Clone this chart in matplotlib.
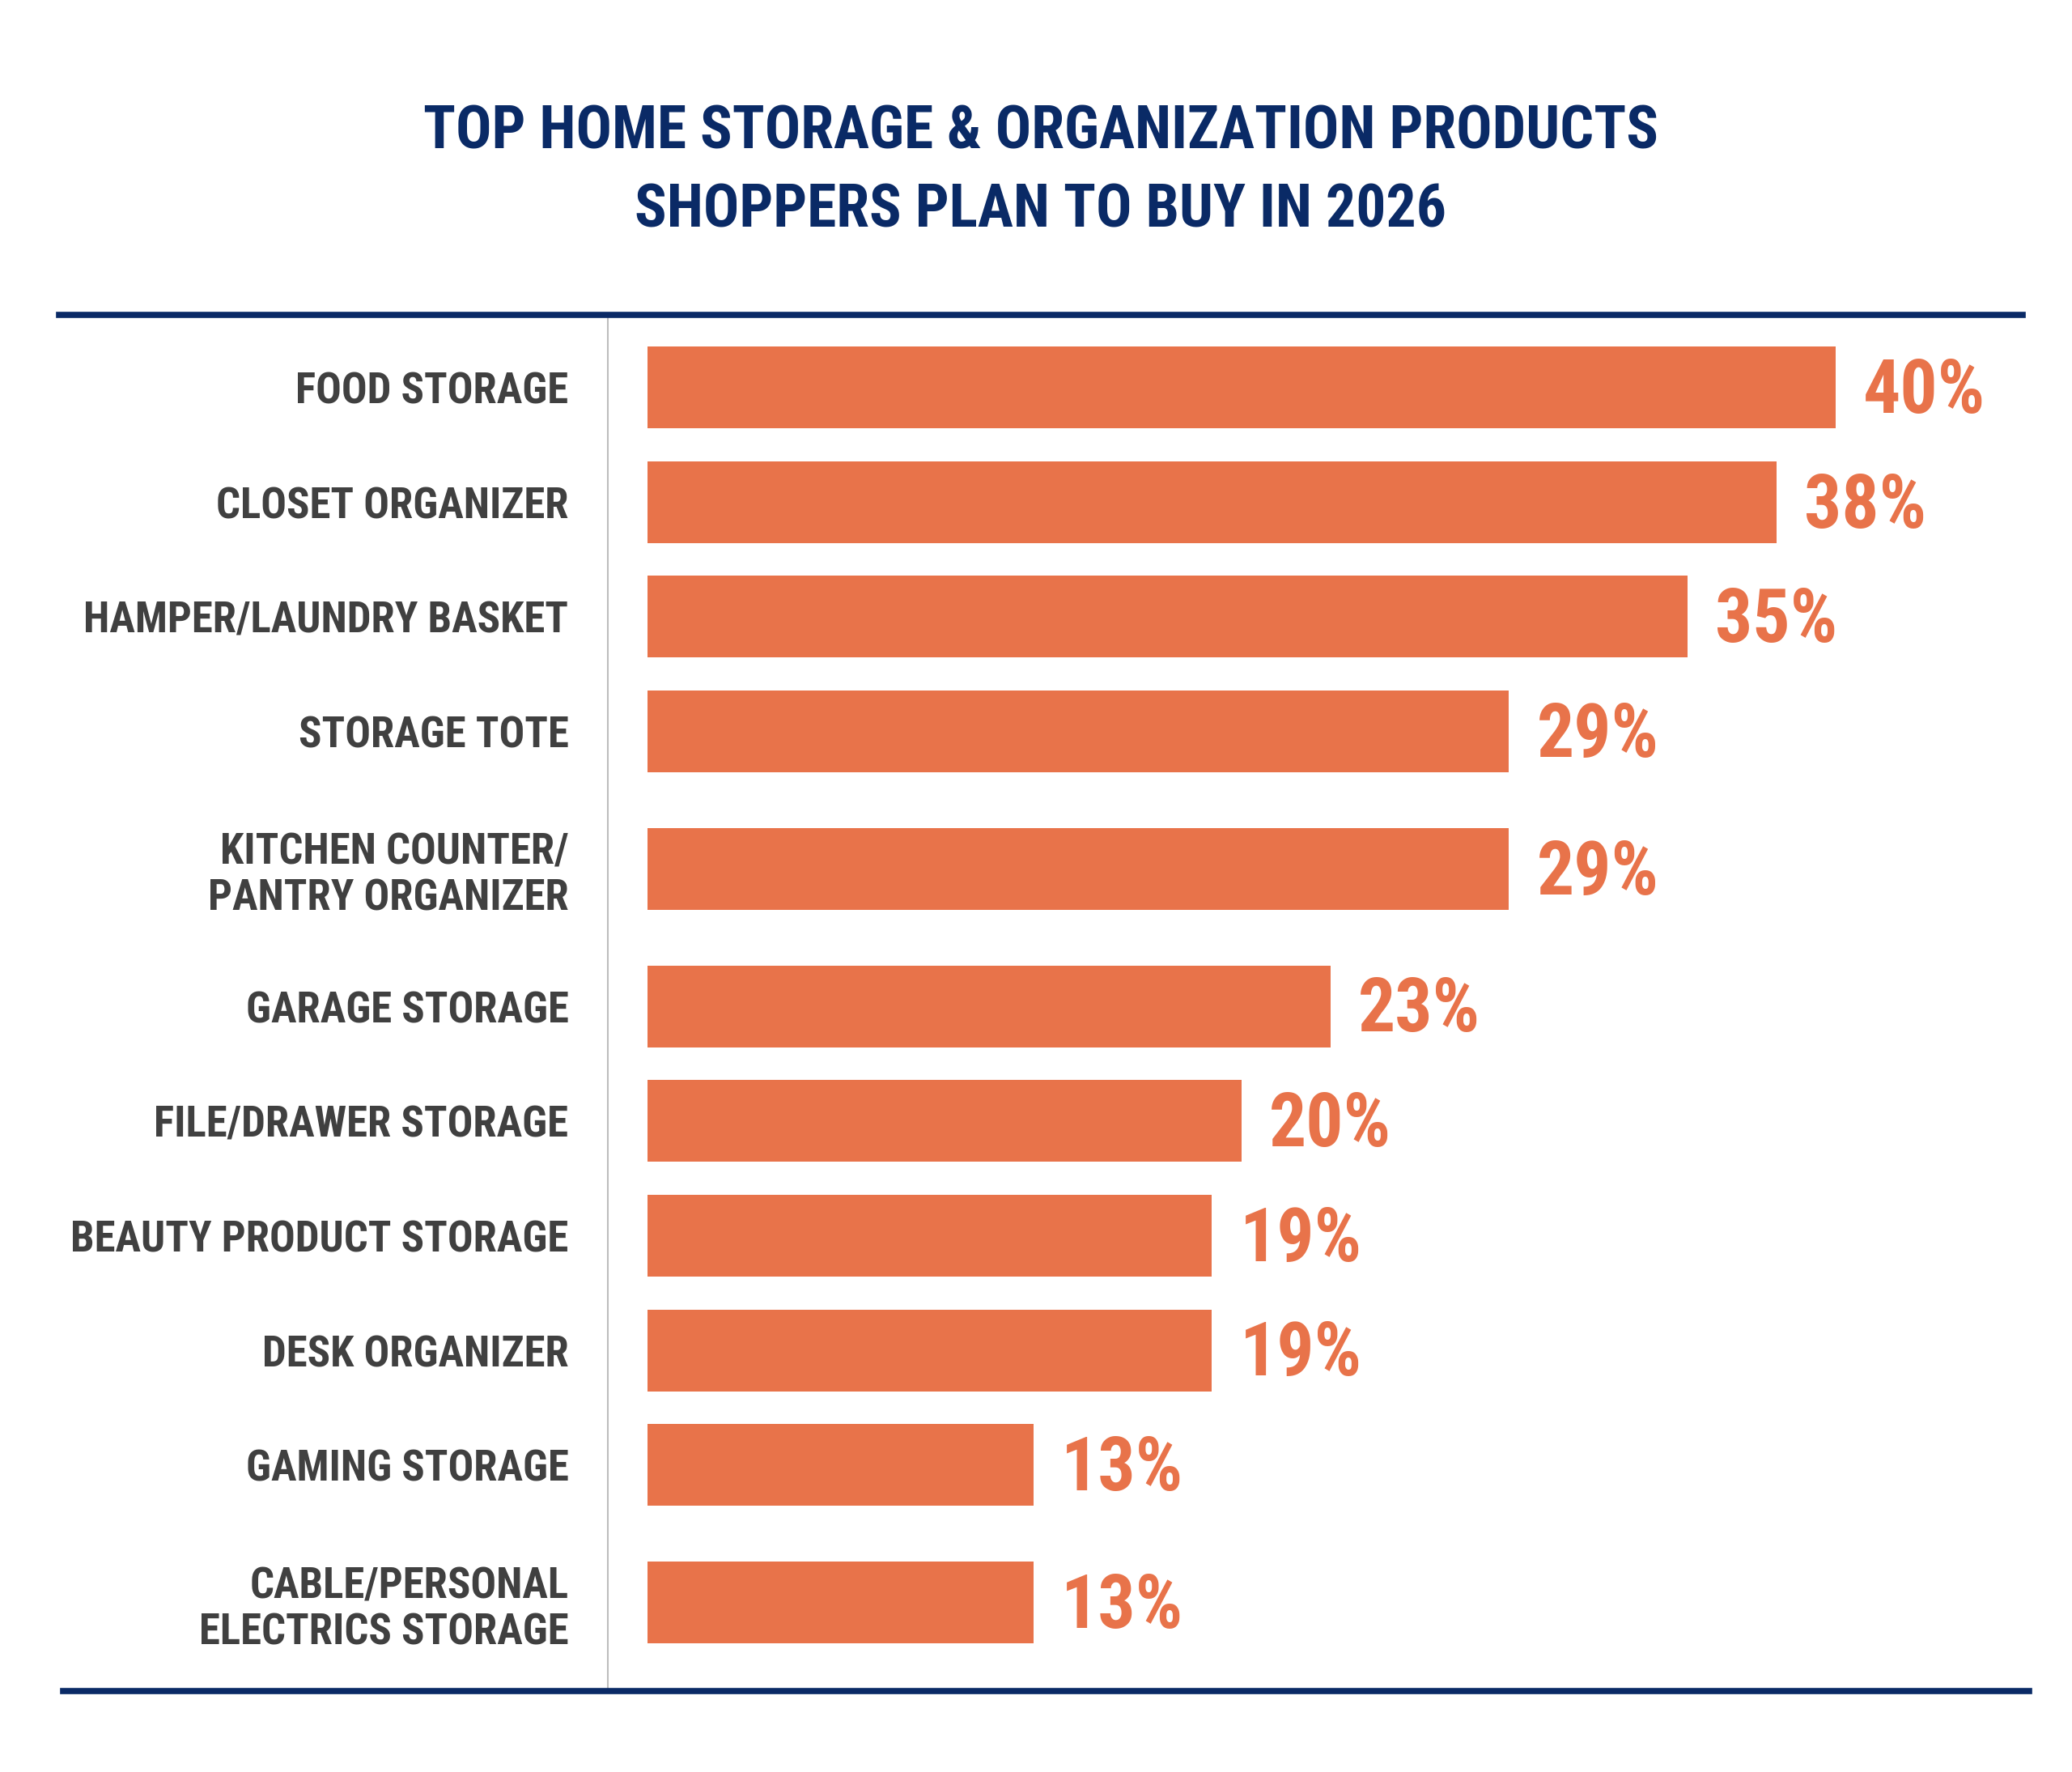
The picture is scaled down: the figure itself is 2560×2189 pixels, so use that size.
import matplotlib
matplotlib.use("Agg")
import matplotlib.pyplot as plt
from matplotlib.lines import Line2D
from matplotlib import font_manager

categories = [
    "FOOD STORAGE",
    "CLOSET ORGANIZER",
    "HAMPER/LAUNDRY BASKET",
    "STORAGE TOTE",
    "KITCHEN COUNTER/\nPANTRY ORGANIZER",
    "GARAGE STORAGE",
    "FILE/DRAWER STORAGE",
    "BEAUTY PRODUCT STORAGE",
    "DESK ORGANIZER",
    "GAMING STORAGE",
    "CABLE/PERSONAL\nELECTRICS STORAGE",
]
values = [40, 38, 35, 29, 29, 23, 20, 19, 19, 13, 13]
title = "TOP HOME STORAGE & ORGANIZATION PRODUCTS\nSHOPPERS PLAN TO BUY IN 2026"

names = {f.name for f in font_manager.fontManager.ttflist}
fam = [n for n in ["Roboto Condensed", "Liberation Sans Narrow", "DejaVu Sans Condensed", "Roboto"] if n in names]
plt.rcParams["font.family"] = fam + ["DejaVu Sans"]

ORANGE = "#E8734A"
NAVY = "#0A2A66"
GREY_TXT = "#404040"

W, H = 2560, 2189
fig = plt.figure(figsize=(W / 100, H / 100), dpi=100)

# bar positions: two-line labels get a bit more room
pos = []
y = 0.0
extra = 0.2
for i, c in enumerate(categories):
    if i > 0:
        y += 1
        if "\n" in c or "\n" in categories[i - 1]:
            y += extra
    pos.append(y)

px_per = 36.7
ax_left, ax_right = 751, 2507
top_px, bot_px = 389, 2089
ax = fig.add_axes([ax_left / W, 1 - bot_px / H, (ax_right - ax_left) / W, (bot_px - top_px) / H])
ax.barh(pos, values, height=0.713, color=ORANGE)
ax.set_xlim(-(800 - ax_left) / px_per, (ax_right - 800) / px_per)
ax.set_ylim(pos[-1] + 0.773, -0.634)

for s in ["top", "right", "bottom"]:
    ax.spines[s].set_visible(False)
ax.spines["left"].set_color("#BDBDBD")
ax.spines["left"].set_linewidth(1.5)
ax.set_xticks([])
ax.set_yticks(pos)
ax.set_yticklabels(categories, fontsize=38, fontweight="bold", color=GREY_TXT, linespacing=1.15)
ax.tick_params(axis="y", length=0, pad=35)

for p, v in zip(pos, values):
    ax.text(v + 0.93, p + 0.04, f"{v}%", va="center", ha="left", fontsize=66,
            fontweight="bold", color=ORANGE)

fig.text(1286 / W, 1 - 212 / H, title, ha="center", va="center", fontsize=53,
         fontweight="bold", color=NAVY, linespacing=1.48, multialignment="center")

fig.add_artist(Line2D([73 / W, 2499 / W], [1 - 389 / H] * 2, color=NAVY, lw=5.5))
fig.add_artist(Line2D([78 / W, 2507 / W], [1 - 2089 / H] * 2, color=NAVY, lw=5.5))

fig.savefig("out.png", dpi=100, facecolor="white")
